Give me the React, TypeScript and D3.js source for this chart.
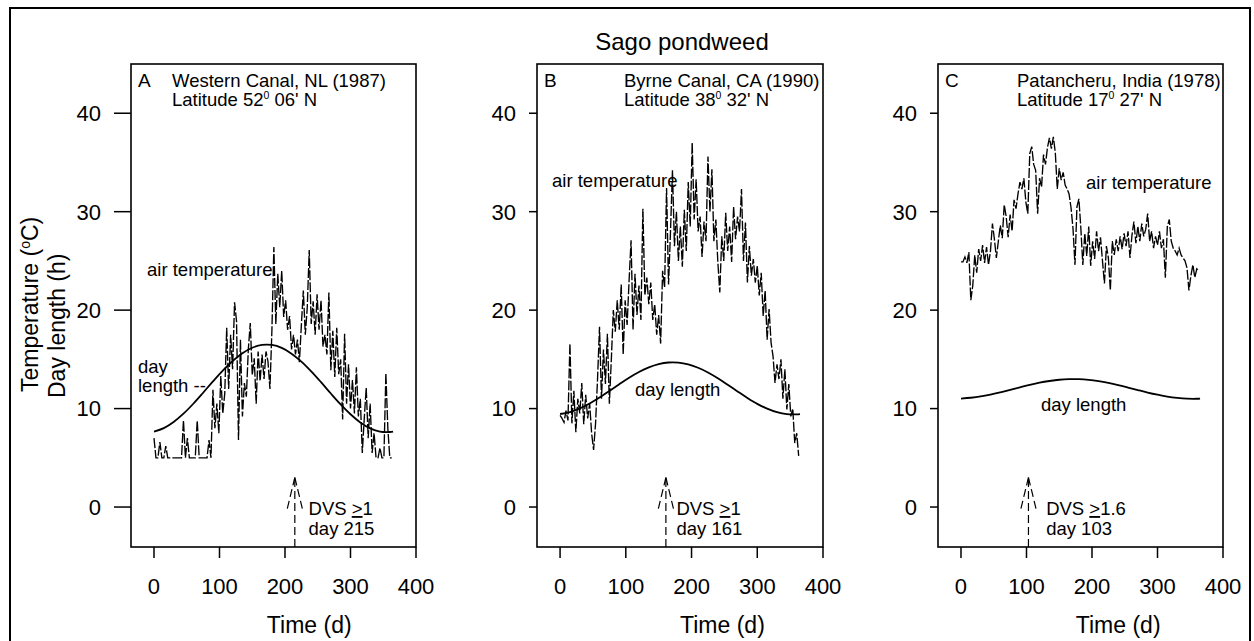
import React from "react";
import * as d3 from "d3";

// ---------------- DATA ----------------
const chartTitle = "Sago pondweed";
const xTicks = [0, 100, 200, 300, 400];
const yTicks = [0, 10, 20, 30, 40];

// air temperature sampled every 3 days (day 0 .. 363)
const tempDays = d3.range(0, 364, 3);

const tempA = [
  7.0, 5.0, 5.0, 6.6, 5.0, 5.0, 6.2, 5.0, 5.0, 5.0,
  5.0, 5.0, 5.0, 5.0, 5.0, 8.8, 5.0, 7.0, 5.0, 5.0,
  5.0, 5.0, 8.8, 5.0, 5.0, 5.0, 5.0, 5.0, 6.8, 5.0,
  11.9, 8.0, 10.5, 7.5, 13.3, 9.5, 11.5, 18.2, 12.0, 17.5,
  14.0, 20.8, 18.9, 6.8, 17.0, 9.2, 12.6, 11.2, 16.0, 18.7,
  13.4, 15.1, 10.5, 15.8, 12.8, 15.5, 13.0, 15.8, 14.8, 12.0,
  17.9, 26.4, 18.6, 23.7, 20.3, 24.0, 19.3, 21.0, 18.0, 19.4,
  16.0, 17.5, 15.5, 17.0, 14.7, 18.5, 22.0, 17.5, 20.3, 26.1,
  18.6, 20.9, 17.5, 21.6, 18.0, 21.0, 16.3, 17.5, 15.5, 21.8,
  13.9, 17.9, 13.2, 18.2, 13.5, 15.0, 8.9, 17.6, 10.5, 14.5,
  10.0, 12.9, 9.5, 14.2, 9.2, 11.0, 5.5, 9.0, 12.1, 7.0,
  10.5, 5.5, 7.5, 5.0, 5.0, 6.0, 5.0, 5.0, 13.6, 8.0,
  5.0, 5.0,
];

const tempB = [
  9.3, 9.0, 8.6, 9.8, 8.8, 16.6, 8.5, 11.8, 7.6, 11.0,
  9.5, 12.6, 8.4, 11.4, 9.0, 10.5, 7.5, 5.8, 8.5, 13.0,
  18.3, 11.0, 16.0, 12.5, 17.6, 10.5, 15.0, 20.0, 17.8, 21.0,
  18.0, 22.6, 15.5, 21.0, 18.5, 23.0, 27.1, 18.0, 23.7, 19.5,
  22.5, 19.0, 30.3, 21.5, 23.3, 20.6, 22.8, 19.0, 20.6, 17.5,
  19.5, 16.6, 24.0, 22.3, 32.4, 22.6, 28.0, 34.2, 26.5, 30.0,
  25.0, 28.5, 24.4, 30.2, 26.0, 33.0, 28.5, 37.0, 29.2, 33.3,
  28.0, 29.5, 25.4, 29.0, 27.0, 35.6, 30.0, 34.3, 27.0, 29.2,
  24.9, 21.8, 27.5, 25.0, 29.9, 26.0, 28.5, 24.9, 30.5, 27.2,
  29.5, 28.0, 32.3, 25.0, 28.9, 22.8, 26.5, 23.5, 25.2, 22.8,
  24.5, 21.5, 23.8, 19.4, 22.0, 17.0, 20.1, 16.7, 15.3, 12.6,
  14.5, 13.0, 15.0, 11.0, 14.0, 9.9, 12.5, 9.2, 10.0, 6.5,
  7.5, 5.2,
];

const tempC = [
  24.9, 24.9, 25.4, 24.8, 25.9, 21.0, 22.5, 25.6, 23.8, 26.2,
  25.0, 26.6, 24.8, 26.4, 24.6, 26.0, 28.8, 27.2, 25.3, 27.0,
  28.6, 27.3, 30.7, 29.5, 27.4, 29.7, 28.0, 31.2, 30.3, 31.8,
  33.0, 32.3, 33.4, 31.0, 29.8, 35.9, 36.6, 34.8, 34.2, 29.8,
  33.4, 32.5, 35.8, 34.8, 36.5, 37.5, 36.4, 37.6, 36.0, 32.3,
  34.4, 33.2, 34.0, 32.7, 32.3, 31.8, 30.4, 28.3, 24.6, 30.5,
  31.3, 28.3, 24.6, 27.8, 25.5, 28.5, 24.5, 27.0, 25.2, 28.0,
  26.0, 27.4, 25.0, 22.7, 26.5, 25.3, 22.0, 27.0, 25.6, 27.2,
  26.0, 27.5, 26.2, 27.8, 26.5, 28.0, 25.3, 27.6, 29.0, 26.8,
  28.5, 27.0, 28.8, 27.5, 28.2, 29.8, 27.0, 28.0, 26.3, 27.5,
  26.6, 28.0, 26.3, 27.2, 23.3, 28.5, 29.2, 27.0, 26.3, 26.0,
  25.6, 26.3, 25.6, 25.3, 25.0, 24.3, 22.0, 23.5, 24.6, 23.3,
  24.2, 24.0,
];

// day length (h)
const dayLenDays = [0, 15, 30, 45, 60, 75, 90, 105, 120, 135, 150, 165, 180, 195, 210, 225, 240, 255, 270, 285, 300, 315, 330, 345, 360, 365];
const dayLenA = [7.67, 8.02, 8.64, 9.48, 10.49, 11.61, 12.76, 13.86, 14.83, 15.63, 16.18, 16.47, 16.46, 16.16, 15.58, 14.77, 13.78, 12.68, 11.53, 10.42, 9.42, 8.59, 7.99, 7.66, 7.62, 7.67];
const dayLenB = [9.45, 9.65, 10.02, 10.52, 11.12, 11.79, 12.47, 13.13, 13.71, 14.18, 14.51, 14.68, 14.67, 14.49, 14.15, 13.67, 13.08, 12.42, 11.74, 11.08, 10.48, 9.99, 9.63, 9.43, 9.41, 9.44];
const dayLenC = [11.02, 11.10, 11.23, 11.42, 11.65, 11.90, 12.16, 12.41, 12.63, 12.80, 12.93, 12.99, 12.99, 12.92, 12.79, 12.61, 12.39, 12.14, 11.88, 11.63, 11.41, 11.22, 11.09, 11.01, 11.00, 11.02];

const panelLetters = ["A", "B", "C"];
const siteNames = ["Western Canal, NL (1987)", "Byrne Canal, CA (1990)", "Patancheru, India (1978)"];
const latDeg = ["52", "38", "17"];
const latMin = ["06' N", "32' N", "27' N"];
const dvsDays = [215, 161, 103];
const dvsThreshold = ["1", "1", "1.6"];
const temps = [tempA, tempB, tempC];
const dayLens = [dayLenA, dayLenB, dayLenC];

// ---------------- LAYOUT ----------------
const FONT = "'Liberation Sans', Arial, Helvetica, sans-serif";
const TOP = 64;
const BOTTOM = 547;
const layout = [
  { left: 131, right: 416, yTick: 17, siteDx: 41, timeAt: 237,
    air: [147, 276], dayLen: [[138, 373, "day"], [138, 392, "length --"]], dvsText: 236 },
  { left: 537, right: 823, yTick: 8, siteDx: 87, timeAt: 247,
    air: [552, 187], dayLen: [[635, 396, "day length"]], dvsText: 177 },
  { left: 938, right: 1223, yTick: 8, siteDx: 79, timeAt: 240,
    air: [1086, 189], dayLen: [[1041, 411, "day length"]], dvsText: 130 },
];

function Panel({ i }: { i: number }) {
  const L = layout[i];
  const x = d3.scaleLinear().domain([-35.1, 400]).range([L.left, L.right]);
  const y = d3.scaleLinear().domain([-4.06, 45]).range([BOTTOM, TOP]);
  const tempLine = d3
    .line<number>()
    .x((_, k) => x(tempDays[k]))
    .y((v) => y(v))(temps[i]) as string;
  const dayLine = d3
    .line<number>()
    .x((_, k) => x(dayLenDays[k]))
    .y((v) => y(v))
    .curve(d3.curveCatmullRom)(dayLens[i]) as string;
  const ax = x(dvsDays[i]);
  const tipY = y(3.0);
  const wingY = y(-0.3);
  const wingDx = x(12) - x(0);
  const tx = x(L.dvsText);
  return (
    <g fontFamily={FONT} fill="#000">
      {/* frame */}
      <rect x={L.left} y={TOP} width={L.right - L.left} height={BOTTOM - TOP} fill="none" stroke="#000" strokeWidth={1.6} />
      {/* y ticks */}
      {yTicks.map((t) => (
        <g key={"y" + t}>
          <line x1={L.left - L.yTick} x2={L.left} y1={y(t)} y2={y(t)} stroke="#000" strokeWidth={1.5} />
          <text x={L.left - L.yTick - 13} y={y(t)} dy="0.36em" textAnchor="end" fontSize={22}>{t}</text>
        </g>
      ))}
      {/* x ticks */}
      {xTicks.map((t) => (
        <g key={"x" + t}>
          <line x1={x(t)} x2={x(t)} y1={BOTTOM} y2={BOTTOM + 11} stroke="#000" strokeWidth={1.5} />
          <text x={x(t)} y={594} textAnchor="middle" fontSize={22}>{t}</text>
        </g>
      ))}
      <text x={x(L.timeAt)} y={633} textAnchor="middle" fontSize={23}>Time (d)</text>

      {/* series */}
      <path d={tempLine} fill="none" stroke="#000" strokeWidth={1.35} strokeDasharray="10,2" />
      <path d={dayLine} fill="none" stroke="#000" strokeWidth={1.8} />

      {/* DVS arrow */}
      <g stroke="#000" strokeWidth={1.2} strokeDasharray="8,4" fill="none">
        <line x1={ax} x2={ax} y1={BOTTOM} y2={tipY} />
        <line x1={ax} x2={ax - wingDx} y1={tipY} y2={wingY} />
        <line x1={ax} x2={ax + wingDx} y1={tipY} y2={wingY} />
      </g>
      <text x={tx} y={515} fontSize={18.5}>
        DVS <tspan textDecoration="underline">&gt;</tspan>{dvsThreshold[i]}
      </text>
      <text x={tx} y={535} fontSize={18.5}>day {dvsDays[i]}</text>

      {/* annotations */}
      <text x={L.left + 7} y={87} fontSize={19}>{panelLetters[i]}</text>
      <text x={L.left + L.siteDx} y={87} fontSize={18.5}>{siteNames[i]}</text>
      <text x={L.left + L.siteDx} y={106} fontSize={18.5}>
        Latitude {latDeg[i]}
        <tspan fontSize={10.5} dy={-7}>0</tspan>
        <tspan dy={7}> {latMin[i]}</tspan>
      </text>
      <text x={L.air[0]} y={L.air[1]} fontSize={18.5}>air temperature</text>
      {L.dayLen.map((d, k) => (
        <text key={k} x={d[0] as number} y={d[1] as number} fontSize={18.5}>{d[2]}</text>
      ))}
    </g>
  );
}

export default function App() {
  return (
    <svg width={1254} height={641} style={{ position: "absolute", left: 0, top: 0, background: "#fff" }}>
      <rect x={0} y={0} width={1254} height={641} fill="#fff" />
      <rect x={10} y={8} width={1240} height={650} fill="none" stroke="#000" strokeWidth={2} />
      <text x={682} y={50} textAnchor="middle" fontSize={24} fontFamily={FONT}>{chartTitle}</text>
      <g fontFamily={FONT}>
        <text transform="translate(38,392) rotate(-90)" fontSize={23}>
          Temperature (<tspan fontSize={14} dy={-8}>o</tspan><tspan dy={8}>C)</tspan>
        </text>
        <text transform="translate(65,398) rotate(-90)" fontSize={23}>Day length (h)</text>
      </g>
      {[0, 1, 2].map((i) => (
        <Panel key={i} i={i} />
      ))}
    </svg>
  );
}
